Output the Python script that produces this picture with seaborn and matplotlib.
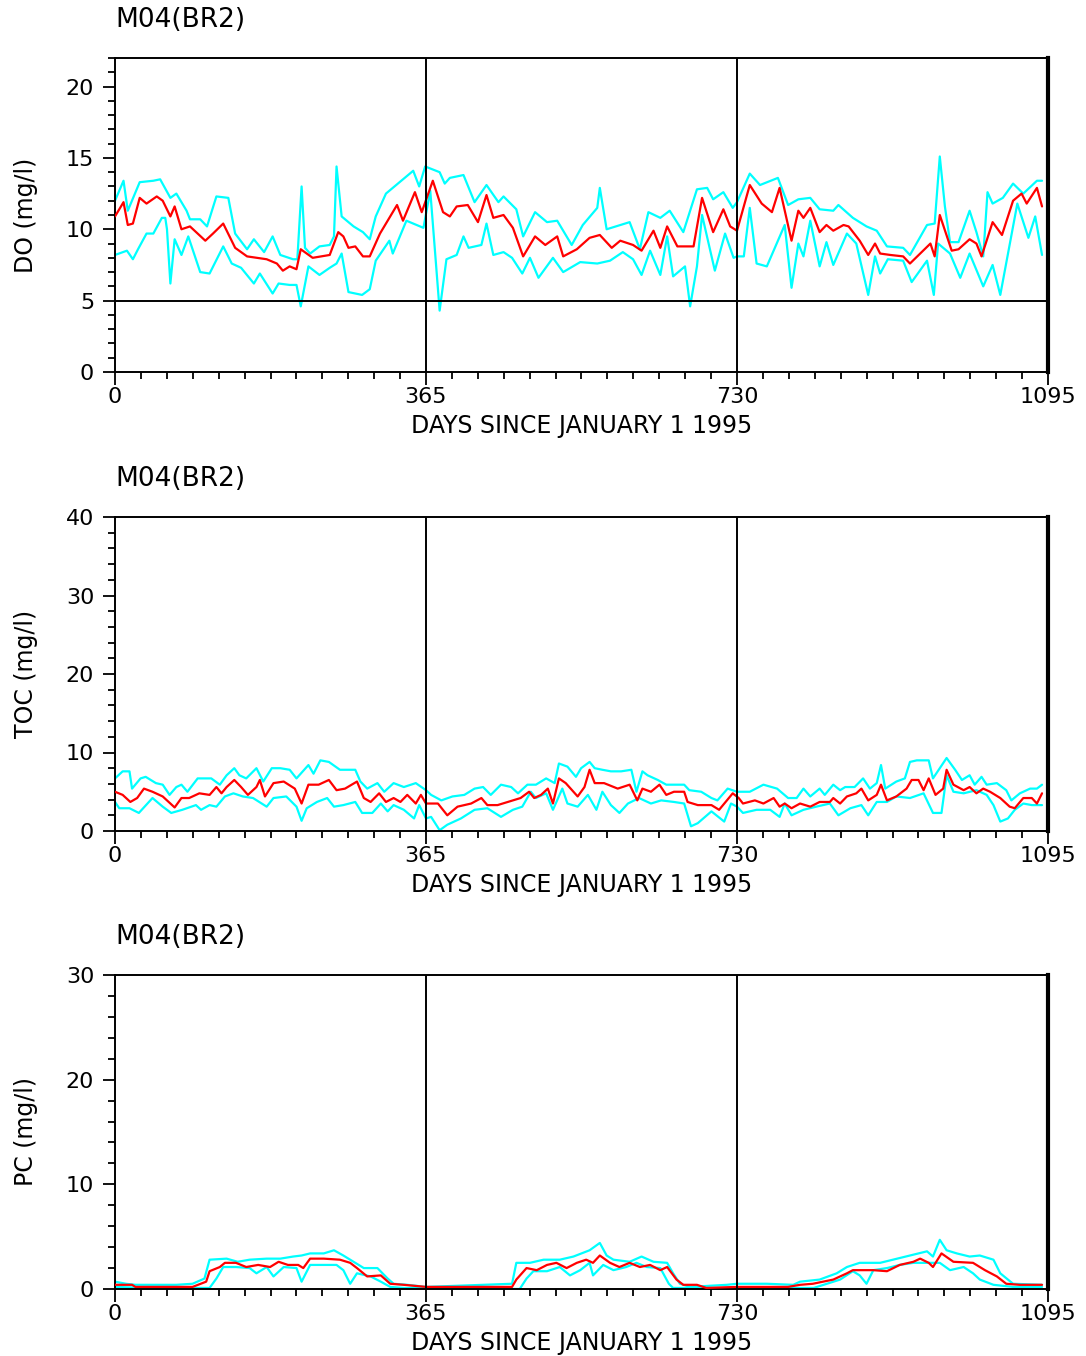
import numpy as np
import pandas as pd
import matplotlib
matplotlib.use("Agg")
import matplotlib.pyplot as plt
import seaborn as sns
from matplotlib.ticker import FixedLocator, MultipleLocator

# ---------------- DATA ----------------
station = "M04(BR2)"
x_label = "DAYS SINCE JANUARY 1 1995"
x_major = [0, 365, 730, 1095]
x_major_labels = ["0", "365", "730", "1095"]

# DO panel
do_hi_days = [0, 10, 15, 29, 45, 53, 65, 72, 84, 88,
              100, 108, 119, 133, 141, 155, 163, 175, 185, 194,
              209, 214, 219, 223, 229, 240, 252, 257, 260, 266,
              280, 291, 299, 306, 318, 330, 350, 357, 364, 381,
              387, 393, 409, 422, 436, 450, 456, 471, 479, 493,
              507, 519, 536, 549, 566, 569, 577, 604, 616, 626,
              640, 651, 667, 683, 695, 702, 714, 725, 730, 745,
              757, 778, 790, 802, 816, 827, 843, 849, 866, 882,
              894, 906, 925, 933, 953, 962, 968, 974, 980, 990,
              1003, 1011, 1019, 1024, 1030, 1042, 1054, 1066, 1082, 1088]
do_hi = [12.0, 13.4, 11.3, 13.3, 13.4, 13.5, 12.2, 12.5, 11.3, 10.7,
         10.7, 10.2, 12.3, 12.2, 9.7, 8.6, 9.3, 8.4, 9.5, 8.2,
         7.9, 7.9, 13.0, 8.7, 8.3, 8.8, 8.9, 9.5, 14.4, 10.9,
         10.2, 9.8, 9.3, 10.9, 12.5, 13.1, 14.1, 13.0, 14.4, 14.0,
         13.2, 13.6, 13.8, 11.9, 13.1, 11.9, 12.3, 11.4, 9.5, 11.2,
         10.5, 10.6, 8.9, 10.3, 11.5, 12.9, 10.0, 10.5, 8.6, 11.2,
         10.8, 11.3, 9.8, 12.8, 12.9, 12.1, 12.6, 11.5, 11.9, 13.9,
         13.1, 13.6, 11.7, 12.1, 12.2, 11.4, 11.3, 11.7, 10.8, 10.2,
         9.9, 8.8, 8.7, 8.2, 10.3, 10.4, 15.1, 11.6, 9.1, 9.1,
         11.3, 9.8, 8.1, 12.6, 11.8, 12.2, 13.2, 12.5, 13.4, 13.4]

do_mean_days = [0, 10, 15, 21, 29, 37, 49, 56, 65, 70,
                78, 88, 106, 115, 127, 141, 155, 178, 190, 197,
                205, 213, 218, 232, 252, 262, 268, 274, 282, 291,
                299, 311, 322, 331, 338, 352, 360, 373, 385, 393,
                401, 414, 426, 436, 444, 456, 467, 479, 493, 505,
                519, 526, 542, 557, 569, 583, 593, 608, 618, 632,
                640, 648, 660, 679, 689, 702, 714, 722, 730, 745,
                759, 771, 780, 794, 802, 808, 816, 827, 835, 843,
                855, 861, 874, 884, 892, 898, 910, 925, 933, 945,
                957, 962, 968, 982, 990, 1003, 1011, 1017, 1030, 1041,
                1054, 1064, 1070, 1082, 1088]
do_mean = [10.9, 11.9, 10.3, 10.4, 12.2, 11.8, 12.3, 12.0, 10.9, 11.6,
           10.0, 10.2, 9.2, 9.7, 10.4, 8.7, 8.1, 7.9, 7.6, 7.1,
           7.4, 7.2, 8.6, 8.0, 8.2, 9.8, 9.5, 8.7, 8.8, 8.1,
           8.1, 9.7, 10.8, 11.7, 10.6, 12.6, 11.2, 13.4, 11.2, 10.9,
           11.6, 11.7, 10.5, 12.4, 10.8, 11.0, 10.1, 8.1, 9.5, 8.9,
           9.5, 8.1, 8.6, 9.4, 9.6, 8.7, 9.2, 8.9, 8.5, 9.9,
           8.7, 10.2, 8.8, 8.8, 12.2, 9.8, 11.4, 10.2, 9.9, 13.1,
           11.8, 11.2, 12.9, 9.2, 11.3, 10.8, 11.5, 9.8, 10.3, 9.9,
           10.3, 10.2, 9.2, 8.2, 9.0, 8.3, 8.2, 8.1, 7.6, 8.3,
           9.0, 8.1, 11.0, 8.5, 8.6, 9.3, 9.0, 8.1, 10.5, 9.6,
           12.0, 12.5, 11.8, 12.9, 11.6]

do_lo_days = [0, 14, 21, 27, 37, 45, 55, 59, 61, 65,
              70, 78, 86, 100, 111, 127, 137, 148, 163, 170,
              185, 192, 205, 213, 218, 227, 240, 252, 260, 266,
              274, 290, 299, 306, 322, 326, 342, 362, 370, 381,
              389, 401, 409, 415, 430, 436, 444, 456, 466, 478,
              487, 497, 514, 526, 546, 566, 581, 596, 608, 618,
              628, 640, 648, 655, 669, 675, 683, 689, 704, 716,
              726, 730, 738, 745, 753, 765, 786, 794, 802, 808,
              816, 827, 835, 843, 859, 870, 884, 892, 898, 907,
              925, 935, 953, 961, 966, 980, 992, 1003, 1019, 1030,
              1039, 1059, 1072, 1080, 1088]
do_lo = [8.2, 8.5, 7.9, 8.6, 9.7, 9.7, 10.8, 10.8, 10.0, 6.2,
         9.3, 8.2, 9.5, 7.0, 6.9, 8.8, 7.6, 7.3, 6.2, 6.9,
         5.5, 6.2, 6.1, 6.1, 4.6, 7.4, 6.8, 7.3, 7.6, 8.3,
         5.6, 5.4, 5.8, 7.8, 9.2, 8.3, 10.6, 10.1, 12.7, 4.3,
         7.9, 8.2, 9.5, 8.7, 8.9, 10.4, 8.2, 8.4, 8.0, 6.9,
         8.0, 6.6, 8.0, 7.0, 7.7, 7.6, 7.8, 8.4, 7.9, 6.8,
         8.5, 6.8, 9.5, 6.7, 7.4, 4.6, 7.4, 11.0, 7.1, 9.7,
         8.0, 8.1, 8.1, 11.5, 7.6, 7.4, 10.3, 5.9, 9.0, 8.1,
         10.6, 7.4, 9.1, 7.5, 9.7, 9.0, 5.4, 8.1, 6.9, 7.9,
         7.8, 6.3, 7.8, 5.4, 9.0, 8.3, 6.6, 8.3, 6.0, 7.5,
         5.4, 11.8, 9.4, 10.9, 8.2]

# TOC panel
toc_hi_days = [0, 9, 17, 20, 30, 36, 48, 56, 64, 72,
               78, 85, 97, 113, 123, 131, 140, 146, 154, 166,
               174, 184, 194, 205, 213, 227, 233, 241, 251, 264,
               282, 288, 296, 308, 316, 327, 339, 353, 365, 371,
               383, 396, 410, 422, 432, 441, 453, 465, 473, 484,
               494, 506, 516, 521, 531, 541, 547, 557, 563, 572,
               582, 594, 606, 612, 619, 625, 637, 647, 668, 674,
               688, 700, 707, 719, 730, 745, 761, 777, 790, 800,
               808, 816, 827, 833, 843, 851, 857, 868, 878, 886,
               894, 899, 904, 917, 927, 933, 941, 955, 960, 968,
               976, 986, 994, 1003, 1009, 1017, 1023, 1035, 1046, 1052,
               1062, 1074, 1082, 1088]
toc_hi = [6.7, 7.6, 7.6, 5.4, 6.7, 6.9, 6.1, 5.9, 4.6, 5.6,
          5.9, 5.0, 6.7, 6.7, 5.9, 7.1, 8.0, 7.1, 6.7, 8.0,
          6.3, 8.0, 8.0, 7.8, 6.7, 8.4, 7.3, 9.0, 8.8, 7.8,
          7.8, 6.3, 5.4, 6.1, 5.0, 6.1, 5.6, 6.1, 5.2, 4.6,
          3.9, 4.4, 4.6, 5.4, 5.6, 4.6, 5.9, 5.6, 4.8, 5.9,
          5.9, 6.7, 6.1, 8.6, 8.2, 6.9, 8.0, 8.8, 8.0, 7.8,
          7.6, 7.6, 7.8, 5.0, 7.6, 7.1, 6.5, 5.9, 5.9, 5.2,
          5.0, 4.2, 3.9, 5.4, 5.0, 5.0, 5.9, 5.4, 4.2, 4.2,
          5.4, 4.4, 5.4, 4.6, 5.9, 5.2, 5.6, 5.6, 6.7, 5.4,
          6.1, 8.4, 5.4, 6.3, 6.7, 8.8, 9.0, 9.0, 6.7, 8.0,
          9.3, 7.8, 6.5, 7.1, 5.9, 6.9, 5.9, 6.1, 5.2, 3.9,
          4.8, 5.4, 5.4, 5.9]

toc_mean_days = [0, 9, 18, 26, 34, 44, 56, 70, 78, 87,
                 99, 111, 119, 125, 131, 140, 148, 156, 166, 170,
                 176, 186, 198, 211, 219, 227, 239, 251, 260, 270,
                 284, 292, 300, 310, 318, 327, 335, 343, 353, 359,
                 365, 379, 390, 402, 418, 430, 437, 449, 461, 476,
                 486, 492, 500, 508, 514, 521, 529, 543, 551, 557,
                 563, 574, 590, 604, 613, 619, 629, 639, 647, 656,
                 668, 672, 684, 700, 709, 725, 732, 737, 751, 761,
                 773, 780, 786, 794, 804, 816, 827, 839, 843, 851,
                 859, 870, 876, 884, 894, 899, 906, 917, 929, 935,
                 943, 949, 955, 963, 972, 976, 984, 996, 1003, 1011,
                 1019, 1027, 1039, 1050, 1056, 1066, 1076, 1082, 1088]
toc_mean = [5.0, 4.6, 3.7, 4.2, 5.4, 5.0, 4.4, 3.0, 4.2, 4.2,
            4.8, 4.6, 5.6, 4.8, 5.6, 6.5, 5.6, 4.6, 5.6, 6.5,
            4.4, 6.1, 6.3, 5.4, 3.5, 5.9, 5.9, 6.5, 5.2, 5.4,
            6.3, 4.2, 3.7, 4.8, 3.7, 4.2, 3.7, 4.6, 3.5, 4.6,
            3.5, 3.5, 2.0, 3.1, 3.5, 4.2, 3.3, 3.3, 3.7, 4.2,
            5.0, 4.2, 4.6, 5.4, 3.5, 6.7, 6.1, 4.4, 5.6, 7.8,
            6.1, 6.1, 5.4, 5.9, 3.9, 5.4, 5.0, 5.9, 4.6, 5.0,
            5.0, 3.7, 3.3, 3.3, 2.7, 4.8, 4.2, 3.5, 3.9, 3.5,
            4.2, 3.1, 3.5, 2.9, 3.5, 3.1, 3.7, 3.7, 4.2, 3.5,
            4.4, 4.8, 5.4, 3.9, 4.6, 5.9, 3.9, 4.4, 5.4, 6.5,
            6.5, 5.2, 6.7, 4.6, 5.4, 7.8, 5.9, 5.2, 5.6, 4.8,
            5.4, 5.0, 4.2, 3.1, 2.9, 4.2, 4.2, 3.5, 4.8]

toc_lo_days = [0, 5, 17, 28, 44, 56, 66, 79, 95, 101,
               111, 119, 129, 139, 150, 162, 178, 186, 201, 213,
               219, 225, 237, 249, 257, 268, 282, 290, 302, 312,
               320, 327, 339, 351, 357, 365, 371, 381, 390, 406,
               422, 437, 453, 467, 478, 488, 494, 506, 514, 525,
               531, 543, 555, 565, 572, 582, 592, 602, 615, 629,
               641, 656, 668, 676, 684, 700, 715, 723, 730, 737,
               753, 769, 780, 786, 794, 808, 823, 839, 849, 863,
               876, 884, 894, 906, 917, 933, 949, 960, 970, 976,
               984, 996, 1011, 1023, 1031, 1039, 1048, 1056, 1066, 1076,
               1088]
toc_lo = [3.7, 2.9, 2.9, 2.3, 4.2, 3.1, 2.3, 2.7, 3.3, 2.7,
          3.3, 3.1, 4.4, 4.8, 4.4, 4.2, 3.1, 4.2, 4.4, 3.1,
          1.3, 2.9, 3.7, 4.2, 3.1, 3.3, 3.7, 2.3, 2.3, 3.5,
          2.5, 3.3, 2.7, 1.6, 3.3, 1.6, 1.8, 0.1, 0.8, 1.6,
          2.7, 2.9, 1.8, 2.7, 3.1, 5.0, 4.2, 4.8, 2.7, 5.4,
          3.5, 3.1, 4.6, 2.7, 5.0, 3.3, 2.3, 3.5, 4.2, 3.5,
          3.9, 3.7, 3.5, 0.6, 1.0, 2.5, 1.2, 3.5, 3.1, 2.3,
          2.7, 2.7, 1.8, 3.5, 2.0, 2.7, 3.1, 3.5, 2.0, 2.9,
          3.3, 2.0, 3.7, 3.7, 4.4, 4.2, 4.8, 2.3, 2.3, 7.1,
          5.0, 4.8, 5.2, 4.6, 3.3, 1.2, 1.6, 2.7, 3.5, 3.3,
          3.3]

# PC panel
pc_hi_days = [0, 13, 24, 72, 91, 105, 111, 131, 144, 158,
              178, 194, 209, 219, 229, 245, 257, 268, 276, 292,
              308, 320, 327, 343, 365, 466, 471, 487, 503, 522,
              538, 557, 569, 577, 585, 604, 618, 632, 648, 655,
              663, 675, 718, 730, 765, 796, 804, 827, 847, 859,
              874, 898, 913, 933, 953, 960, 968, 976, 988, 1003,
              1015, 1031, 1039, 1054, 1088]
pc_hi = [0.7, 0.5, 0.4, 0.4, 0.5, 1.0, 2.8, 2.9, 2.6, 2.8,
         2.9, 2.9, 3.1, 3.2, 3.4, 3.4, 3.7, 3.2, 2.8, 2.0,
         2.0, 1.0, 0.5, 0.4, 0.2, 0.5, 2.5, 2.5, 2.8, 2.8,
         3.1, 3.7, 4.4, 3.2, 2.8, 2.6, 3.1, 2.6, 2.5, 1.5,
         0.5, 0.2, 0.4, 0.5, 0.5, 0.4, 0.7, 0.9, 1.5, 2.1,
         2.5, 2.5, 2.8, 3.2, 3.6, 3.1, 4.7, 3.7, 3.4, 3.1,
         3.2, 2.8, 1.5, 0.5, 0.4]

pc_mean_days = [0, 20, 24, 91, 107, 111, 123, 129, 142, 154,
                168, 182, 192, 203, 215, 221, 229, 245, 264, 276,
                284, 296, 312, 323, 339, 365, 466, 471, 483, 495,
                507, 518, 530, 542, 553, 561, 569, 581, 592, 604,
                616, 628, 640, 648, 659, 667, 683, 694, 730, 790,
                804, 819, 843, 859, 866, 890, 906, 921, 937, 945,
                955, 960, 970, 984, 1007, 1021, 1035, 1046, 1062, 1088]
pc_mean = [0.4, 0.4, 0.2, 0.2, 0.7, 1.7, 2.1, 2.5, 2.5, 2.1,
           2.3, 2.1, 2.6, 2.3, 2.3, 2.0, 2.9, 2.9, 2.8, 2.5,
           2.0, 1.2, 1.3, 0.5, 0.4, 0.2, 0.2, 0.9, 2.0, 1.8,
           2.3, 2.5, 2.0, 2.5, 2.8, 2.5, 3.2, 2.5, 2.1, 2.5,
           2.1, 2.3, 1.8, 2.1, 0.9, 0.4, 0.4, 0.1, 0.2, 0.2,
           0.4, 0.5, 0.9, 1.5, 1.8, 1.8, 1.7, 2.3, 2.6, 2.9,
           2.5, 2.1, 3.4, 2.6, 2.5, 1.8, 1.2, 0.5, 0.4, 0.4]

pc_lo_days = [0, 40, 111, 119, 127, 142, 158, 166, 178, 186,
              198, 213, 219, 229, 245, 260, 268, 276, 284, 300,
              312, 323, 339, 365, 475, 483, 491, 507, 522, 534,
              546, 557, 561, 573, 585, 600, 612, 624, 640, 650,
              655, 730, 820, 851, 866, 874, 882, 890, 906, 921,
              937, 957, 968, 980, 996, 1007, 1015, 1031, 1054, 1088]
pc_lo = [0.2, 0.1, 0.1, 1.0, 2.1, 2.1, 2.0, 1.5, 2.1, 1.2,
         2.1, 2.0, 0.7, 2.3, 2.3, 2.3, 1.8, 0.5, 1.5, 1.2,
         0.7, 0.2, 0.1, 0.1, 0.0, 1.0, 1.7, 1.7, 2.1, 1.3,
         1.8, 2.5, 1.3, 2.3, 1.8, 2.1, 2.5, 2.1, 2.0, 0.5,
         0.1, 0.1, 0.1, 0.9, 1.7, 1.3, 0.5, 1.8, 2.0, 2.3,
         2.5, 2.5, 2.5, 1.8, 2.1, 1.5, 0.9, 0.4, 0.2, 0.2]

y_labels = ["DO (mg/l)", "TOC (mg/l)", "PC (mg/l)"]
y_max = [22, 40, 30]
y_major = [[0, 5, 10, 15, 20], [0, 10, 20, 30, 40], [0, 10, 20, 30]]
y_minor_step = [1, 2, 2]
h_ref = [5, None, None]

# ---------------- PLOT ----------------
sns.set_style("ticks")
plt.rcParams['font.family'] = ['DejaVu Sans']
plt.rcParams['text.color'] = 'black'
plt.rcParams['axes.labelcolor'] = 'black'
plt.rcParams['xtick.color'] = 'black'
plt.rcParams['ytick.color'] = 'black'

CYAN = "#00FFFF"
RED = "#FF0000"

fig = plt.figure(figsize=(10.86, 13.56), dpi=100)
W, H = 1086.0, 1356.0
left_px, right_px = 115, 1048
tops_px = [58, 517, 975]
height_px = 314

series = [
    [(do_lo_days, do_lo, CYAN), (do_hi_days, do_hi, CYAN), (do_mean_days, do_mean, RED)],
    [(toc_lo_days, toc_lo, CYAN), (toc_hi_days, toc_hi, CYAN), (toc_mean_days, toc_mean, RED)],
    [(pc_lo_days, pc_lo, CYAN), (pc_hi_days, pc_hi, CYAN), (pc_mean_days, pc_mean, RED)],
]

for i in range(3):
    top = tops_px[i]
    ax = fig.add_axes([left_px / W, 1 - (top + height_px) / H,
                       (right_px - left_px) / W, height_px / H])
    for d, v, c in series[i]:
        assert len(d) == len(v)
        df = pd.DataFrame({"day": d, "val": v})
        sns.lineplot(data=df, x="day", y="val", ax=ax, color=c, lw=1.6,
                     estimator=None, sort=False, zorder=3 if c == RED else 2)
    for xv in (365, 730):
        ax.axvline(xv, color="black", lw=1.4, zorder=4)
    if h_ref[i] is not None:
        ax.axhline(h_ref[i], color="black", lw=1.4, zorder=4)

    ax.set_xlim(0, 1095)
    ax.set_ylim(0, y_max[i])
    ax.xaxis.set_major_locator(FixedLocator(x_major))
    ax.set_xticklabels(x_major_labels)
    ax.xaxis.set_minor_locator(FixedLocator(np.arange(0, 1095.01, 365 / 12)))
    ax.yaxis.set_major_locator(FixedLocator(y_major[i]))
    ax.yaxis.set_minor_locator(MultipleLocator(y_minor_step[i]))
    ax.tick_params(axis="both", which="major", direction="out", length=9, width=1.3,
                   labelsize=16, colors="black")
    ax.tick_params(axis="both", which="minor", direction="out", length=5, width=1.3,
                   colors="black")
    ax.tick_params(axis="y", which="major", pad=6)
    ax.tick_params(axis="x", which="major", pad=2)
    ax.tick_params(top=False, right=False, which="both")

    for s in ("left", "top", "bottom"):
        ax.spines[s].set_visible(True)
        ax.spines[s].set_linewidth(1.4)
        ax.spines[s].set_color("black")
    ax.spines["right"].set_visible(True)
    ax.spines["right"].set_linewidth(3)
    ax.spines["right"].set_color("black")

    ax.set_xlabel(x_label, fontsize=17, color="black")
    ax.xaxis.set_label_coords(0.5, -0.135)
    ax.set_ylabel(y_labels[i], fontsize=17, color="black")
    ax.yaxis.set_label_coords(-0.082, 0.5)
    ax.text(0, 1 + 38 / height_px, station, transform=ax.transAxes,
            ha="left", va="center", fontsize=19, color="black")

fig.savefig("out.png", dpi=100, facecolor="white")
